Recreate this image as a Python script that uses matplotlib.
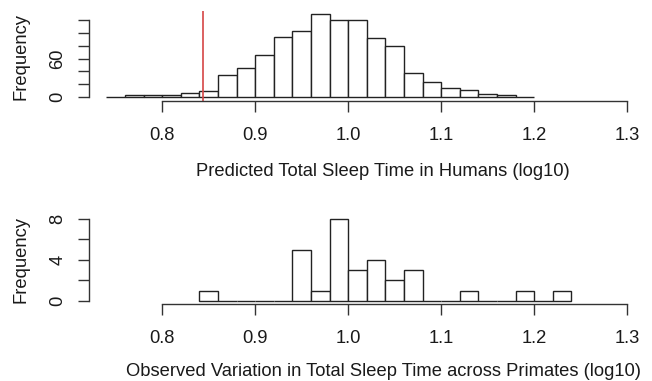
import matplotlib
matplotlib.use("Agg")
import matplotlib.pyplot as plt
import numpy as np

plt.rcParams['font.family'] = ['Liberation Sans', 'DejaVu Sans']

# ---- data ----
pred_bin_start = 0.74
pred_bin_width = 0.02
pred_counts = [1, 3, 3, 3, 6, 10, 35, 46, 65, 93, 103, 129, 120, 119, 92, 79, 37, 24, 15, 11, 5, 3, 1]
human_observed = 0.844

obs_bin_start = 0.84
obs_bin_width = 0.02
obs_counts = [1, 0, 0, 0, 0, 5, 1, 8, 3, 4, 2, 3, 0, 0, 1, 0, 0, 1, 0, 1]

x_ticks = [0.8, 0.9, 1.0, 1.1, 1.2, 1.3]
x_tick_labels = ["0.8", "0.9", "1.0", "1.1", "1.2", "1.3"]
top_y_ticks = [0, 20, 40, 60, 80, 100, 120]
top_y_labels = ["0", "", "", "60", "", "", ""]
bot_y_ticks = [0, 2, 4, 6, 8]
bot_y_labels = ["0", "", "4", "", "8"]

top_xlabel = "Predicted Total Sleep Time in Humans (log10)"
bot_xlabel = "Observed Variation in Total Sleep Time across Primates (log10)"
ylabel = "Frequency"

# ---- layout helpers (pixel coords, origin top-left) ----
W, H = 652, 381
fig = plt.figure(figsize=(W / 100, H / 100), dpi=100)

def ax_at(left, top, right, bottom):
    return fig.add_axes([left / W, 1 - bottom / H, (right - left) / W, (bottom - top) / H])

FS = 13.25
TXT = '#1a1a1a'
LINE = '#333333'
XLIM = (0.72163, 1.32655)

def style(ax, yticks, ylabels, ymax, xlabel, xlab_baseline_px, ylab_px):
    for s in ['top', 'right']:
        ax.spines[s].set_visible(False)
    ax.spines['bottom'].set_bounds(x_ticks[0], x_ticks[-1])
    ax.spines['left'].set_bounds(yticks[0], yticks[-1])
    for s in ['bottom', 'left']:
        ax.spines[s].set_color(LINE)
        ax.spines[s].set_linewidth(1.0)
    ax.set_xlim(*XLIM)
    ax.set_ylim(-0.04 * ymax, 1.04 * ymax)
    ax.set_xticks(x_ticks)
    ax.set_xticklabels(x_tick_labels)
    ax.set_yticks(yticks)
    ax.set_yticklabels(ylabels, rotation=90, va='center')
    ax.tick_params(axis='both', direction='out', length=8, width=1.0, color=LINE,
                   labelsize=FS, labelcolor=TXT)
    ax.tick_params(axis='x', pad=11)
    ax.tick_params(axis='y', pad=8.5)
    ax.set_xlabel(xlabel, fontsize=FS, color=TXT)
    ax.xaxis.label.set_va('baseline')
    ax.xaxis.set_label_coords(383 / W, 1 - xlab_baseline_px / H, transform=fig.transFigure)
    ax.set_ylabel(ylabel, fontsize=FS, color=TXT)
    ax.yaxis.set_label_coords(29.3 / W, 1 - ylab_px / H, transform=fig.transFigure)
    ax.set_facecolor('none')

# ---- top panel ----
ax1 = ax_at(89.3, 10.5, W, 100.7)
edges1 = pred_bin_start + pred_bin_width * np.arange(len(pred_counts))
ax1.bar(edges1, pred_counts, width=pred_bin_width, align='edge',
        facecolor='white', edgecolor='#222222', linewidth=1.0)
ax1.axvline(human_observed, color='#d64545', linewidth=1.2)
style(ax1, top_y_ticks, top_y_labels, max(pred_counts), top_xlabel, 176.0, 56.0)

# ---- bottom panel ----
ax2 = ax_at(89.3, 215.8, W, 304.0)
edges2 = obs_bin_start + obs_bin_width * np.arange(len(obs_counts))
ax2.bar(edges2, obs_counts, width=obs_bin_width, align='edge',
        facecolor='white', edgecolor='#222222', linewidth=1.0)
style(ax2, bot_y_ticks, bot_y_labels, max(obs_counts), bot_xlabel, 376.5, 259.5)

fig.savefig("out.png", dpi=100)
